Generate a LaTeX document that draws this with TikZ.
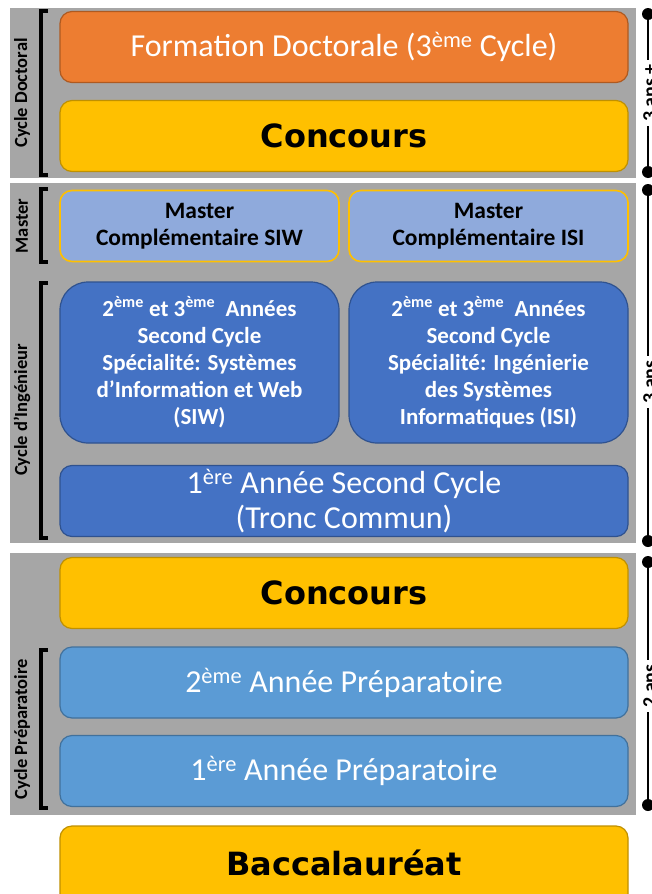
\documentclass[tikz,border=0pt]{standalone}
\usepackage{fontspec}
\setmainfont{Carlito}
\newfontfamily\heavyfont{DejaVu Sans}
\usetikzlibrary{positioning}
\definecolor{PanelGray}{RGB}{166,166,166}
\definecolor{DocOrange}{RGB}{237,125,49}
\definecolor{DocOrangeLine}{RGB}{174,90,33}
\definecolor{Gold}{RGB}{255,192,0}
\definecolor{GoldLine}{RGB}{191,144,0}
\definecolor{MasterBlue}{RGB}{143,170,220}
\definecolor{IngBlue}{RGB}{68,114,196}
\definecolor{IngBlueLine}{RGB}{47,82,143}
\definecolor{PrepBlue}{RGB}{91,155,213}
\definecolor{PrepBlueLine}{RGB}{65,113,156}
\tikzset{
  box/.style={rectangle,draw,line width=1.2pt,rounded corners=12pt,
    minimum width=568pt,minimum height=71pt,align=center,inner sep=0pt},
  docbox/.style={box,fill=DocOrange,draw=DocOrangeLine,text=white,
    font=\fontsize{32}{36}\selectfont},
  goldbox/.style={box,fill=Gold,draw=GoldLine,
    font=\heavyfont\bfseries\fontsize{32}{36}\selectfont},
  masterbox/.style={box,fill=MasterBlue,draw=Gold,line width=1.6pt,
    minimum width=279pt,font=\bfseries\fontsize{23.5}{27}\selectfont},
  specbox/.style={box,fill=IngBlue,draw=IngBlueLine,text=white,rounded corners=28pt,
    minimum width=279pt,minimum height=161pt,font=\bfseries\fontsize{23}{27}\selectfont},
  troncbox/.style={box,fill=IngBlue,draw=IngBlueLine,text=white,
    font=\fontsize{32}{35}\selectfont},
  prepbox/.style={box,fill=PrepBlue,draw=PrepBlueLine,text=white,
    font=\fontsize{32}{36}\selectfont},
  panel/.style={fill=PanelGray,draw=none},
  cyclelabel/.style={rotate=90,font=\bfseries\fontsize{18.5}{22}\selectfont},
  bracketline/.style={line width=3.5pt},
  dureeline/.style={line width=2pt},
  dureedot/.style={circle,fill=black,inner sep=0pt,minimum size=12pt},
  dureelabel/.style={rotate=90,fill=white,inner sep=4pt,
    font=\bfseries\fontsize{20}{24}\selectfont}
}
\begin{document}
\begin{tikzpicture}[x=1pt,y=-1pt]
\useasboundingbox[fill=white] (0,0) rectangle (652,894);
% gray panels
\fill[panel] (10,8) rectangle (636,178);
\fill[panel] (10,183) rectangle (636,543);
\fill[panel] (10,553) rectangle (636,815);

% boxes
\node[docbox] (doct) at (344,47) {Formation Doctorale (3\textsuperscript{ème} Cycle)};
\node[goldbox] (conc1) at (344,136) {Concours};
\node[masterbox] (msiw) at (199.5,226) {Master\\Complémentaire SIW};
\node[masterbox] (misi) at (488.5,226) {Master\\Complémentaire ISI};
\node[specbox] (siw) at (199.5,362.5) {2\textsuperscript{ème} et 3\textsuperscript{ème}\ \ Années\\Second Cycle\\Spécialité: Systèmes\\d’Information et Web\\(SIW)};
\node[specbox] (isi) at (488.5,362.5) {2\textsuperscript{ème} et 3\textsuperscript{ème}\ \ Années\\Second Cycle\\Spécialité: Ingénierie\\des Systèmes\\Informatiques (ISI)};
\node[troncbox] (tronc) at (344,501) {1\textsuperscript{ère} Année Second Cycle\\(Tronc Commun)};
\node[goldbox] (conc2) at (344,593) {Concours};
\node[prepbox] (prep2) at (344,682.5) {2\textsuperscript{ème} Année Préparatoire};
\node[prepbox] (prep1) at (344,771) {1\textsuperscript{ère} Année Préparatoire};
\node[goldbox,minimum height=90pt] (bac) at (344,871) {\raisebox{17pt}{Baccalauréat}};

% brackets and cycle names
\draw[bracketline] (48,11) -- (41,11) -- (41,175) -- (48,175);
\draw[bracketline] (48,189) -- (41,189) -- (41,262) -- (48,262);
\draw[bracketline] (48,283) -- (41,283) -- (41,538) -- (48,538);
\draw[bracketline] (48,650) -- (41,650) -- (41,808) -- (48,808);
\node[cyclelabel] (lbdoc) at (22,93) {Cycle Doctoral};
\node[cyclelabel] (lbmas) at (22,226) {Master};
\node[cyclelabel] (lbing) at (22,410) {Cycle d’Ingénieur};
\node[cyclelabel] (lbprep) at (22,729) {Cycle Préparatoire};

% durations
\node[dureedot] (d1a) at (648,14) {};
\node[dureedot] (d1b) at (648,172) {};
\node[dureedot] (d2a) at (648,190) {};
\node[dureedot] (d2b) at (648,541) {};
\node[dureedot] (d3a) at (648,562) {};
\node[dureedot] (d3b) at (648,805) {};
\draw[dureeline] (d1a) -- (d1b);
\draw[dureeline] (d2a) -- (d2b);
\draw[dureeline] (d3a) -- (d3b);
\node[dureelabel] (dur1) at (650,93) {3 ans +};
\node[dureelabel] (dur2) at (650,382) {3 ans};
\node[dureelabel] (dur3) at (650,686) {2 ans};
\end{tikzpicture}
\end{document}
